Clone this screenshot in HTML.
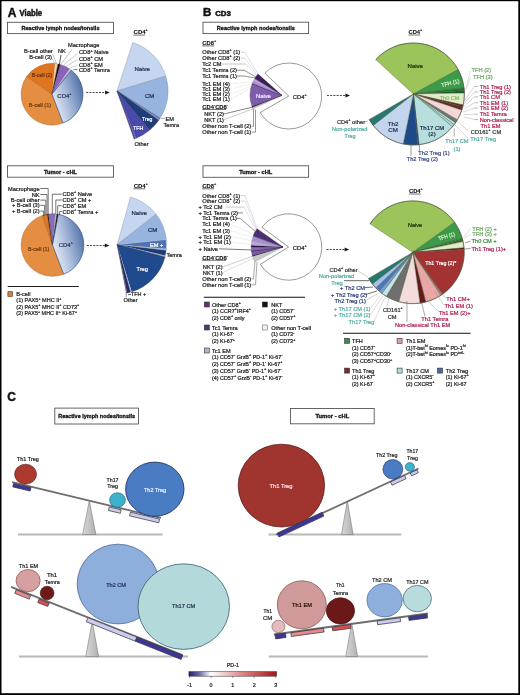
<!DOCTYPE html><html><head><meta charset="utf-8"><style>html,body{margin:0;padding:0;background:#fff;}svg{display:block;font-family:"Liberation Sans",sans-serif;will-change:transform;}</style></head><body>
<svg width="520" height="695" viewBox="0 0 520 695">
<rect x="0" y="0" width="520" height="695" fill="#fff" stroke="none" stroke-width="1"/>
<text x="7.80" y="16.87" font-size="12" fill="#111" font-weight="bold" stroke="#111" stroke-width="0.45">A</text>
<text x="19.50" y="16.45" font-size="8.2" fill="#111" font-weight="bold" textLength="22.6" lengthAdjust="spacingAndGlyphs" stroke="#111" stroke-width="0.45">Viable</text>
<rect x="7.5" y="22.3" width="106.0" height="11.3" fill="#fff" stroke="#555" stroke-width="0.9"/>
<text x="60.50" y="29.97" font-size="5.6" fill="#111" text-anchor="middle" font-weight="bold" textLength="78" lengthAdjust="spacingAndGlyphs" stroke="#111" stroke-width="0.28">Reactive lymph nodes/tonsils</text>
<defs><linearGradient id="cd4g" x1="0" y1="0.75" x2="1" y2="0.25"><stop offset="0" stop-color="#f2f5fa"/><stop offset="0.5" stop-color="#a2b6d8"/><stop offset="1" stop-color="#4a6aa2"/></linearGradient><linearGradient id="cd4g2" x1="0" y1="0.75" x2="1" y2="0.25"><stop offset="0" stop-color="#f2f5fa"/><stop offset="0.5" stop-color="#a2b6d8"/><stop offset="1" stop-color="#4a6aa2"/></linearGradient></defs>
<path d="M52.00,94.20 L63.07,123.05 A30.9,30.9 0 0 1 26.69,76.48 Z" fill="#e58e42" stroke="#9a5a20" stroke-width="0.4" />
<path d="M52.00,94.20 L26.69,76.48 A30.9,30.9 0 0 1 54.80,63.43 Z" fill="#df761f" stroke="#9a5a20" stroke-width="0.4" />
<path d="M52.00,94.20 L54.80,63.43 A30.9,30.9 0 0 1 58.05,63.90 Z" fill="#f6cfac" stroke="#9a5a20" stroke-width="0.3" />
<path d="M52.00,94.20 L58.05,63.90 A30.9,30.9 0 0 1 60.31,64.44 Z" fill="#111" stroke="#111" stroke-width="0.3" />
<path d="M52.00,94.20 L60.31,64.44 A30.9,30.9 0 0 1 69.46,68.70 Z" fill="#8a62bc" stroke="#444" stroke-width="0.3" />
<path d="M52.00,94.20 L69.46,68.70 A30.9,30.9 0 0 1 71.45,70.19 Z" fill="#c8b6e4" stroke="#555" stroke-width="0.2" />
<path d="M52.00,94.20 L71.45,70.19 A30.9,30.9 0 0 1 63.07,123.05 Z" fill="url(#cd4g)" stroke="#2d4a7a" stroke-width="0.65" />
<text x="57.30" y="97.96" font-size="6" fill="#2a3a5a" stroke="#2a3a5a" stroke-width="0.22">CD4<tspan font-size="3.8" dy="-2.9">+</tspan><tspan dy="2.9"></tspan></text>
<text x="28.80" y="106.55" font-size="5.7" fill="#6a3a10" textLength="22.4" lengthAdjust="spacingAndGlyphs" stroke="#6a3a10" stroke-width="0.22">B-cell (1)</text>
<text x="31.80" y="76.65" font-size="5.7" fill="#6a3010" textLength="20.4" lengthAdjust="spacingAndGlyphs" stroke="#6a3010" stroke-width="0.22">B-cell (2)</text>
<text x="67.90" y="47.35" font-size="5.7" fill="#222" stroke="#222" stroke-width="0.22">Macrophage</text>
<text x="24.00" y="53.35" font-size="5.7" fill="#222" stroke="#222" stroke-width="0.22">B-cell other</text>
<text x="58.00" y="53.35" font-size="5.7" fill="#222" stroke="#222" stroke-width="0.22">NK</text>
<text x="29.20" y="58.75" font-size="5.7" fill="#222" stroke="#222" stroke-width="0.22">B-cell (3)</text>
<text x="79.00" y="54.45" font-size="5.7" fill="#222" stroke="#222" stroke-width="0.22">CD8<tspan font-size="3.8" dy="-2.9">+</tspan><tspan dy="2.9"> Naive</tspan></text>
<text x="79.00" y="60.65" font-size="5.7" fill="#222" stroke="#222" stroke-width="0.22">CD8<tspan font-size="3.8" dy="-2.9">+</tspan><tspan dy="2.9"> CM</tspan></text>
<text x="79.00" y="66.55" font-size="5.7" fill="#222" stroke="#222" stroke-width="0.22">CD8<tspan font-size="3.8" dy="-2.9">+</tspan><tspan dy="2.9"> EM</tspan></text>
<text x="79.00" y="72.35" font-size="5.7" fill="#222" stroke="#222" stroke-width="0.22">CD8<tspan font-size="3.8" dy="-2.9">+</tspan><tspan dy="2.9"> Temra</tspan></text>
<line x1="72.00" y1="49.50" x2="61.30" y2="63.70" stroke="#777" stroke-width="0.45" />
<line x1="61.00" y1="55.00" x2="59.40" y2="64.50" stroke="#111" stroke-width="0.7" />
<line x1="52.50" y1="54.00" x2="56.50" y2="63.50" stroke="#777" stroke-width="0.45" />
<line x1="51.50" y1="58.00" x2="55.00" y2="63.50" stroke="#777" stroke-width="0.45" />
<line x1="77.50" y1="53.60" x2="63.70" y2="64.80" stroke="#888" stroke-width="0.45" />
<line x1="77.50" y1="59.60" x2="66.50" y2="66.00" stroke="#888" stroke-width="0.45" />
<line x1="77.50" y1="65.40" x2="70.60" y2="67.70" stroke="#888" stroke-width="0.45" />
<line x1="73.50" y1="69.60" x2="77.50" y2="69.60" stroke="#222" stroke-width="0.6" />
<line x1="86.20" y1="92.50" x2="105.70" y2="92.50" stroke="#333" stroke-width="0.9" stroke-dasharray="2,1.2"/>
<polygon points="109.70,92.50 105.10,90.50 105.10,94.50" fill="#1a1a1a" stroke="none" stroke-width="0.5"/>
<text x="133.60" y="34.36" font-size="6" fill="#111" font-weight="bold" stroke="#111" stroke-width="0.12">CD4<tspan font-size="3.8" dy="-2.9">+</tspan><tspan dy="2.9"></tspan></text>
<line x1="133.40" y1="35.10" x2="145.20" y2="35.10" stroke="#111" stroke-width="0.6" />
<path d="M117.00,91.00 L132.76,42.50 A51,51 0 0 1 165.77,76.09 Z" fill="#c6d6ef" stroke="#7a8fb5" stroke-width="0.4" />
<path d="M117.00,91.00 L165.77,76.09 A51,51 0 0 1 160.25,118.03 Z" fill="#97b4df" stroke="#7a8fb5" stroke-width="0.4" />
<path d="M117.00,91.00 L160.25,118.03 A51,51 0 0 1 159.53,119.15 Z" fill="#5c7fbf" stroke="#445" stroke-width="0.2" />
<path d="M117.00,91.00 L159.53,119.15 A51,51 0 0 1 158.78,120.25 Z" fill="#8aa0d0" stroke="#445" stroke-width="0.2" />
<path d="M117.00,91.00 L158.78,120.25 A51,51 0 0 1 149.78,130.07 Z" fill="#1f3d7a" stroke="#223" stroke-width="0.3" />
<path d="M117.00,91.00 L149.78,130.07 A51,51 0 0 1 136.10,138.29 Z" fill="#4a4aae" stroke="#223" stroke-width="0.3" />
<path d="M117.00,91.00 L136.10,138.29 A51,51 0 0 1 135.53,138.52 Z" fill="#8a8ad0" stroke="#8a8ad0" stroke-width="0.1" />
<path d="M117.00,91.00 L135.53,138.52 A51,51 0 0 1 134.11,139.04 Z" fill="#4a4aae" stroke="#223" stroke-width="0.3" />
<text x="134.50" y="70.66" font-size="6" fill="#1a2a4a" stroke="#1a2a4a" stroke-width="0.22">Naive</text>
<text x="145.00" y="97.66" font-size="6" fill="#1a2a4a" stroke="#1a2a4a" stroke-width="0.22">CM</text>
<text x="142.10" y="120.59" font-size="5.8" fill="#fff" textLength="10.4" lengthAdjust="spacingAndGlyphs" stroke="#fff" stroke-width="0.22">Treg</text>
<text x="132.90" y="130.39" font-size="5.8" fill="#fff" textLength="10.4" lengthAdjust="spacingAndGlyphs" stroke="#fff" stroke-width="0.22">TFH</text>
<text x="165.50" y="121.02" font-size="5.6" fill="#222" stroke="#222" stroke-width="0.22">EM</text>
<text x="163.50" y="126.52" font-size="5.6" fill="#222" stroke="#222" stroke-width="0.22">Temra</text>
<line x1="161.00" y1="118.50" x2="165.00" y2="118.50" stroke="#444" stroke-width="0.4" />
<text x="134.50" y="145.82" font-size="5.6" fill="#222" stroke="#222" stroke-width="0.22">Other</text>
<rect x="7.5" y="165.8" width="106.0" height="11.399999999999977" fill="#fff" stroke="#555" stroke-width="0.9"/>
<text x="60.50" y="173.52" font-size="5.6" fill="#111" text-anchor="middle" font-weight="bold" textLength="33" lengthAdjust="spacingAndGlyphs" stroke="#111" stroke-width="0.28">Tumor - cHL</text>
<path d="M52.50,245.00 L63.72,274.22 A31.3,31.3 0 1 1 42.31,215.41 Z" fill="#e58e42" stroke="#9a5a20" stroke-width="0.4" />
<path d="M52.50,245.00 L42.31,215.41 A31.3,31.3 0 0 1 47.44,214.11 Z" fill="#dc7626" stroke="#9a5a20" stroke-width="0.4" />
<path d="M52.50,245.00 L47.44,214.11 A31.3,31.3 0 0 1 48.41,213.97 Z" fill="#111" stroke="#111" stroke-width="0.3" />
<path d="M52.50,245.00 L48.41,213.97 A31.3,31.3 0 0 1 55.17,213.81 Z" fill="#8a6cbc" stroke="#444" stroke-width="0.3" />
<path d="M52.50,245.00 L55.17,213.81 A31.3,31.3 0 0 1 56.96,214.02 Z" fill="#c8b8e6" stroke="#555" stroke-width="0.2" />
<path d="M52.50,245.00 L56.96,214.02 A31.3,31.3 0 0 1 58.42,214.26 Z" fill="#151520" stroke="#111" stroke-width="0.3" />
<path d="M52.50,245.00 L58.42,214.26 A31.3,31.3 0 0 1 63.72,274.22 Z" fill="url(#cd4g2)" stroke="#2d4a7a" stroke-width="0.65" />
<text x="58.70" y="246.76" font-size="6" fill="#2a3a5a" stroke="#2a3a5a" stroke-width="0.22">CD4<tspan font-size="3.8" dy="-2.9">+</tspan><tspan dy="2.9"></tspan></text>
<text x="27.90" y="251.45" font-size="5.7" fill="#6a3a10" textLength="21.5" lengthAdjust="spacingAndGlyphs" stroke="#6a3a10" stroke-width="0.22">B-cell (1)</text>
<text x="39.60" y="190.55" font-size="5.7" fill="#222" text-anchor="end" stroke="#222" stroke-width="0.22">Macrophage</text>
<text x="39.60" y="196.55" font-size="5.7" fill="#222" text-anchor="end" stroke="#222" stroke-width="0.22">NK</text>
<text x="39.60" y="202.15" font-size="5.7" fill="#222" text-anchor="end" stroke="#222" stroke-width="0.22">B-cell other</text>
<text x="39.60" y="207.35" font-size="5.7" fill="#222" text-anchor="end" stroke="#222" stroke-width="0.22">+ B-cell (3)</text>
<text x="39.60" y="213.05" font-size="5.7" fill="#222" text-anchor="end" stroke="#222" stroke-width="0.22">+ B-cell (2)</text>
<text x="62.50" y="196.25" font-size="5.7" fill="#222" stroke="#222" stroke-width="0.22">CD8<tspan font-size="3.8" dy="-2.9">+</tspan><tspan dy="2.9"> Naive</tspan></text>
<text x="62.50" y="202.05" font-size="5.7" fill="#222" stroke="#222" stroke-width="0.22">CD8<tspan font-size="3.8" dy="-2.9">+</tspan><tspan dy="2.9"> CM +</tspan></text>
<text x="62.50" y="207.85" font-size="5.7" fill="#222" stroke="#222" stroke-width="0.22">CD8<tspan font-size="3.8" dy="-2.9">+</tspan><tspan dy="2.9"> EM</tspan></text>
<text x="62.50" y="213.55" font-size="5.7" fill="#222" stroke="#222" stroke-width="0.22">CD8<tspan font-size="3.8" dy="-2.9">+</tspan><tspan dy="2.9"> Temra +</tspan></text>
<line x1="40.30" y1="188.50" x2="48.20" y2="188.50" stroke="#222" stroke-width="0.65" />
<line x1="48.20" y1="188.50" x2="48.20" y2="215.50" stroke="#333" stroke-width="0.65" />
<line x1="40.30" y1="194.50" x2="47.00" y2="194.50" stroke="#222" stroke-width="0.65" />
<line x1="47.00" y1="194.50" x2="47.00" y2="215.00" stroke="#333" stroke-width="0.65" />
<line x1="40.30" y1="200.10" x2="45.80" y2="200.10" stroke="#222" stroke-width="0.65" />
<line x1="45.80" y1="200.10" x2="45.80" y2="215.00" stroke="#333" stroke-width="0.65" />
<line x1="40.30" y1="205.30" x2="44.60" y2="205.30" stroke="#222" stroke-width="0.65" />
<line x1="44.60" y1="205.30" x2="44.60" y2="215.50" stroke="#333" stroke-width="0.65" />
<line x1="40.30" y1="211.00" x2="43.40" y2="211.00" stroke="#222" stroke-width="0.65" />
<line x1="43.40" y1="211.00" x2="43.40" y2="216.00" stroke="#333" stroke-width="0.65" />
<line x1="61.80" y1="194.20" x2="52.30" y2="194.20" stroke="#222" stroke-width="0.65" />
<line x1="52.30" y1="194.20" x2="52.30" y2="214.00" stroke="#333" stroke-width="0.65" />
<line x1="61.80" y1="200.00" x2="55.80" y2="200.00" stroke="#222" stroke-width="0.65" />
<line x1="55.80" y1="200.00" x2="55.80" y2="214.20" stroke="#333" stroke-width="0.65" />
<line x1="61.80" y1="205.80" x2="57.70" y2="205.80" stroke="#222" stroke-width="0.65" />
<line x1="57.70" y1="205.80" x2="57.70" y2="214.50" stroke="#333" stroke-width="0.65" />
<line x1="61.80" y1="211.50" x2="59.60" y2="211.50" stroke="#222" stroke-width="0.65" />
<line x1="59.60" y1="211.50" x2="59.60" y2="215.00" stroke="#333" stroke-width="0.65" />
<line x1="86.80" y1="245.50" x2="105.40" y2="245.50" stroke="#333" stroke-width="0.9" stroke-dasharray="2,1.2"/>
<polygon points="109.40,245.50 104.80,243.50 104.80,247.50" fill="#1a1a1a" stroke="none" stroke-width="0.5"/>
<text x="133.70" y="188.36" font-size="6" fill="#111" font-weight="bold" stroke="#111" stroke-width="0.12">CD4<tspan font-size="3.8" dy="-2.9">+</tspan><tspan dy="2.9"></tspan></text>
<line x1="133.50" y1="188.80" x2="145.30" y2="188.80" stroke="#111" stroke-width="0.6" />
<path d="M117.20,244.60 L130.48,197.02 A49.4,49.4 0 0 1 156.13,214.19 Z" fill="#c6d6ef" stroke="#7a8fb5" stroke-width="0.4" />
<path d="M117.20,244.60 L156.13,214.19 A49.4,49.4 0 0 1 166.33,239.44 Z" fill="#97b4df" stroke="#7a8fb5" stroke-width="0.4" />
<path d="M117.20,244.60 L166.33,239.44 A49.4,49.4 0 0 1 166.41,248.91 Z" fill="#4e72b2" stroke="#dde" stroke-width="0.4" />
<path d="M117.20,244.60 L166.41,248.91 A49.4,49.4 0 0 1 166.28,250.19 Z" fill="#b8c8e8" stroke="#445" stroke-width="0.2" />
<path d="M117.20,244.60 L166.28,250.19 A49.4,49.4 0 0 1 165.33,255.71 Z" fill="#1e3a72" stroke="#dde" stroke-width="0.3" />
<path d="M117.20,244.60 L165.33,255.71 A49.4,49.4 0 0 1 165.03,256.97 Z" fill="#b8c8e8" stroke="#445" stroke-width="0.2" />
<path d="M117.20,244.60 L165.03,256.97 A49.4,49.4 0 0 1 131.64,291.84 Z" fill="#1f4a8e" stroke="#223" stroke-width="0.3" />
<path d="M117.20,244.60 L131.64,291.84 A49.4,49.4 0 0 1 130.57,292.16 Z" fill="#b0c4f0" stroke="#b0c4f0" stroke-width="0.1" />
<path d="M117.20,244.60 L130.57,292.16 A49.4,49.4 0 0 1 127.13,292.99 Z" fill="#2c2c60" stroke="#2c2c60" stroke-width="0.2" />
<path d="M117.20,244.60 L127.13,292.99 A49.4,49.4 0 0 1 126.29,293.16 Z" fill="#8a8ab0" stroke="#334" stroke-width="0.3" />
<text x="131.50" y="214.66" font-size="6" fill="#1a2a4a" stroke="#1a2a4a" stroke-width="0.22">Naive</text>
<text x="148.00" y="231.66" font-size="6" fill="#1a2a4a" stroke="#1a2a4a" stroke-width="0.22">CM</text>
<text x="150.00" y="246.52" font-size="5.6" fill="#fff" stroke="#fff" stroke-width="0.22">EM +</text>
<text x="136.40" y="270.79" font-size="5.8" fill="#fff" textLength="11.5" lengthAdjust="spacingAndGlyphs" stroke="#fff" stroke-width="0.22">Treg</text>
<text x="166.40" y="256.52" font-size="5.6" fill="#222" stroke="#222" stroke-width="0.22">Temra</text>
<text x="127.90" y="296.42" font-size="5.6" fill="#222" textLength="18.3" lengthAdjust="spacingAndGlyphs" stroke="#222" stroke-width="0.22">&#8211;TFH +</text>
<text x="123.50" y="301.82" font-size="5.6" fill="#222" textLength="14" lengthAdjust="spacingAndGlyphs" stroke="#222" stroke-width="0.22">Other</text>
<line x1="126.20" y1="292.30" x2="126.20" y2="297.00" stroke="#333" stroke-width="0.5" />
<line x1="7.70" y1="286.50" x2="78.80" y2="286.50" stroke="#222" stroke-width="1" />
<rect x="7.9" y="291.7" width="4.6" height="4.6" fill="#cf8248" stroke="#4a2a10" stroke-width="0.6"/>
<text x="16.30" y="296.05" font-size="5.7" fill="#222" stroke="#222" stroke-width="0.22">B-cell</text>
<text x="16.30" y="302.45" font-size="5.7" fill="#222" textLength="45.2" lengthAdjust="spacingAndGlyphs" stroke="#222" stroke-width="0.22">(1) PAX5<tspan font-size="3.8" dy="-2.9">+</tspan><tspan dy="2.9"> MHC II<tspan font-size="3.8" dy="-2.9">+</tspan><tspan dy="2.9"></tspan></tspan></text>
<text x="16.30" y="308.85" font-size="5.7" fill="#222" textLength="62.9" lengthAdjust="spacingAndGlyphs" stroke="#222" stroke-width="0.22">(2) PAX5<tspan font-size="3.8" dy="-2.9">+</tspan><tspan dy="2.9"> MHC II<tspan font-size="3.8" dy="-2.9">+</tspan><tspan dy="2.9"> CD73<tspan font-size="3.8" dy="-2.9">+</tspan><tspan dy="2.9"></tspan></tspan></tspan></text>
<text x="16.30" y="315.45" font-size="5.7" fill="#222" textLength="60.7" lengthAdjust="spacingAndGlyphs" stroke="#222" stroke-width="0.22">(3) PAX5<tspan font-size="3.8" dy="-2.9">+</tspan><tspan dy="2.9"> MHC II<tspan font-size="3.8" dy="-2.9">+</tspan><tspan dy="2.9"> Ki-67<tspan font-size="3.8" dy="-2.9">+</tspan><tspan dy="2.9"></tspan></tspan></tspan></text>
<text x="202.90" y="15.79" font-size="11.5" fill="#111" font-weight="bold" stroke="#111" stroke-width="0.45">B</text>
<text x="215.20" y="16.15" font-size="6.8" fill="#111" font-weight="bold" textLength="15.6" lengthAdjust="spacingAndGlyphs" stroke="#111" stroke-width="0.45">CD3</text>
<rect x="203" y="22.2" width="105.60000000000002" height="11.400000000000002" fill="#fff" stroke="#555" stroke-width="0.9"/>
<text x="255.80" y="29.92" font-size="5.6" fill="#111" text-anchor="middle" font-weight="bold" textLength="78" lengthAdjust="spacingAndGlyphs" stroke="#111" stroke-width="0.28">Reactive lymph nodes/tonsils</text>
<text x="202.30" y="45.09" font-size="5.8" fill="#111" font-weight="bold" stroke="#111" stroke-width="0.12">CD8<tspan font-size="3.8" dy="-2.9">+</tspan><tspan dy="2.9"></tspan></text>
<line x1="202.10" y1="45.90" x2="214.10" y2="45.90" stroke="#111" stroke-width="0.6" />
<text x="202.30" y="54.35" font-size="5.7" fill="#222" stroke="#222" stroke-width="0.22">Other CD8<tspan font-size="3.8" dy="-2.9">+</tspan><tspan dy="2.9"> (1)</tspan></text>
<text x="202.30" y="60.15" font-size="5.7" fill="#222" stroke="#222" stroke-width="0.22">Other CD8<tspan font-size="3.8" dy="-2.9">+</tspan><tspan dy="2.9"> (2)</tspan></text>
<text x="202.30" y="66.05" font-size="5.7" fill="#222" stroke="#222" stroke-width="0.22">Tc2 CM</text>
<text x="202.30" y="72.25" font-size="5.7" fill="#222" stroke="#222" stroke-width="0.22">Tc1 Temra (2)</text>
<text x="202.30" y="78.05" font-size="5.7" fill="#222" stroke="#222" stroke-width="0.22">Tc1 Temra (1)</text>
<text x="202.30" y="85.75" font-size="5.7" fill="#222" stroke="#222" stroke-width="0.22">Tc1 EM (4)</text>
<text x="202.30" y="90.85" font-size="5.7" fill="#222" stroke="#222" stroke-width="0.22">Tc1 EM (3)</text>
<text x="202.30" y="96.25" font-size="5.7" fill="#222" stroke="#222" stroke-width="0.22">Tc1 EM (2)</text>
<text x="202.30" y="101.05" font-size="5.7" fill="#222" stroke="#222" stroke-width="0.22">Tc1 EM (1)</text>
<text x="202.30" y="108.79" font-size="5.8" fill="#111" font-weight="bold" stroke="#111" stroke-width="0.12">CD4<tspan font-size="3.8" dy="-2.9">-</tspan><tspan dy="2.9">CD8<tspan font-size="3.8" dy="-2.9">-</tspan><tspan dy="2.9"></tspan></tspan></text>
<line x1="202.10" y1="109.50" x2="226.00" y2="109.50" stroke="#111" stroke-width="0.6" />
<text x="204.20" y="116.25" font-size="5.7" fill="#222" stroke="#222" stroke-width="0.22">NKT (2)</text>
<text x="204.20" y="122.05" font-size="5.7" fill="#222" stroke="#222" stroke-width="0.22">NKT (1)</text>
<text x="202.30" y="128.35" font-size="5.7" fill="#222" stroke="#222" stroke-width="0.22">Other non T-cell (2)</text>
<text x="202.30" y="134.15" font-size="5.7" fill="#222" stroke="#222" stroke-width="0.22">Other non T-cell (1)</text>
<line x1="241.00" y1="52.30" x2="245.00" y2="52.30" stroke="#888" stroke-width="0.4" />
<line x1="245.00" y1="52.30" x2="258.00" y2="74.00" stroke="#c8b8d8" stroke-width="0.5" />
<line x1="241.00" y1="58.10" x2="245.00" y2="58.10" stroke="#888" stroke-width="0.4" />
<line x1="245.00" y1="58.10" x2="257.00" y2="75.00" stroke="#d0c0e0" stroke-width="0.5" />
<line x1="222.00" y1="64.00" x2="246.00" y2="64.00" stroke="#888" stroke-width="0.5" />
<line x1="246.00" y1="64.00" x2="257.00" y2="76.00" stroke="#bbb" stroke-width="0.4" />
<line x1="237.00" y1="70.20" x2="244.00" y2="70.20" stroke="#333" stroke-width="0.6" />
<line x1="244.00" y1="70.20" x2="256.00" y2="77.00" stroke="#333" stroke-width="0.5" />
<line x1="237.00" y1="76.00" x2="244.00" y2="76.00" stroke="#333" stroke-width="0.6" />
<line x1="244.00" y1="76.00" x2="255.50" y2="78.00" stroke="#333" stroke-width="0.5" />
<line x1="231.00" y1="83.70" x2="254.00" y2="82.00" stroke="#bbb" stroke-width="0.4" stroke-dasharray="1,0.7"/>
<line x1="231.00" y1="88.80" x2="254.00" y2="83.53" stroke="#bbb" stroke-width="0.4" stroke-dasharray="1,0.7"/>
<line x1="231.00" y1="94.20" x2="254.00" y2="85.15" stroke="#bbb" stroke-width="0.4" stroke-dasharray="1,0.7"/>
<line x1="231.00" y1="99.00" x2="254.00" y2="86.59" stroke="#bbb" stroke-width="0.4" stroke-dasharray="1,0.7"/>
<line x1="223.00" y1="114.20" x2="253.00" y2="107.00" stroke="#333" stroke-width="0.6" />
<line x1="223.00" y1="120.00" x2="254.00" y2="108.50" stroke="#999" stroke-width="0.5" />
<line x1="251.50" y1="126.30" x2="253.50" y2="126.30" stroke="#333" stroke-width="0.5" />
<line x1="253.50" y1="126.30" x2="253.50" y2="109.00" stroke="#333" stroke-width="0.5" />
<line x1="251.50" y1="132.10" x2="255.50" y2="132.10" stroke="#333" stroke-width="0.5" />
<line x1="255.50" y1="132.10" x2="255.50" y2="109.50" stroke="#333" stroke-width="0.5" />
<path d="M288.70,96.00 L264.88,73.16 A33,33 0 1 1 260.18,112.60 Z" fill="#fff" stroke="#555" stroke-width="0.6" />
<path d="M282.00,95.30 L253.00,108.82 A32,32 0 0 1 252.33,107.29 Z" fill="#ccc" stroke="#666" stroke-width="0.3" />
<path d="M282.00,95.30 L252.33,107.29 A32,32 0 0 1 251.93,106.24 Z" fill="#2a1a3a" stroke="#2a1a3a" stroke-width="0.3" />
<path d="M282.00,95.30 L251.93,106.24 A32,32 0 0 1 252.13,83.83 Z" fill="#7d5cab" stroke="#3a2a5a" stroke-width="0.3" />
<path d="M282.00,95.30 L252.13,83.83 A32,32 0 0 1 252.33,83.31 Z" fill="#2a1a3a" stroke="#2a1a3a" stroke-width="0.3" />
<path d="M282.00,95.30 L252.33,83.31 A32,32 0 0 1 253.24,81.27 Z" fill="#a88cd0" stroke="#6a5a8a" stroke-width="0.2" />
<path d="M282.00,95.30 L253.24,81.27 A32,32 0 0 1 254.72,78.58 Z" fill="#b9a4dc" stroke="#6a5a8a" stroke-width="0.2" />
<path d="M282.00,95.30 L254.72,78.58 A32,32 0 0 1 258.03,74.10 Z" fill="#3d1f5a" stroke="#2a1a3a" stroke-width="0.3" />
<text x="255.90" y="97.79" font-size="5.8" fill="#f0e8ff" textLength="15" lengthAdjust="spacingAndGlyphs" stroke="#f0e8ff" stroke-width="0.22">Naive</text>
<text x="292.80" y="98.59" font-size="5.8" fill="#222" stroke="#222" stroke-width="0.22">CD4<tspan font-size="3.8" dy="-2.9">+</tspan><tspan dy="2.9"></tspan></text>
<line x1="327.00" y1="95.50" x2="346.00" y2="95.50" stroke="#333" stroke-width="0.9" stroke-dasharray="2,1.2"/>
<polygon points="350.00,95.50 345.40,93.50 345.40,97.50" fill="#1a1a1a" stroke="none" stroke-width="0.5"/>
<text x="408.50" y="34.29" font-size="5.8" fill="#111" font-weight="bold" stroke="#111" stroke-width="0.12">CD4<tspan font-size="3.8" dy="-2.9">+</tspan><tspan dy="2.9"></tspan></text>
<line x1="408.50" y1="35.00" x2="420.30" y2="35.00" stroke="#111" stroke-width="0.6" />
<path d="M413.40,94.00 L375.74,59.61 A51,51 0 0 1 458.18,69.59 Z" fill="#9bc55a" stroke="#4a5a3a" stroke-width="0.4" />
<path d="M413.40,94.00 L458.18,69.59 A51,51 0 0 1 464.02,87.78 Z" fill="#3b9b49" stroke="#4a5a3a" stroke-width="0.4" />
<path d="M413.40,94.00 L464.02,87.78 A51,51 0 0 1 464.28,90.44 Z" fill="#1f7a30" stroke="#4a5a3a" stroke-width="0.4" />
<path d="M413.40,94.00 L464.28,90.44 A51,51 0 0 1 464.39,93.11 Z" fill="#16602a" stroke="#4a5a3a" stroke-width="0.4" />
<path d="M413.40,94.00 L464.39,93.11 A51,51 0 0 1 463.19,105.04 Z" fill="#e2edc8" stroke="#4a5a3a" stroke-width="0.4" />
<path d="M413.40,94.00 L463.19,105.04 A51,51 0 0 1 462.78,106.77 Z" fill="#5a1a1a" stroke="#4a5a3a" stroke-width="0.4" />
<path d="M413.40,94.00 L462.78,106.77 A51,51 0 0 1 461.76,110.18 Z" fill="#6e2828" stroke="#4a5a3a" stroke-width="0.4" />
<path d="M413.40,94.00 L461.76,110.18 A51,51 0 0 1 457.34,119.88 Z" fill="#f3d6d6" stroke="#4a5a3a" stroke-width="0.4" />
<path d="M413.40,94.00 L457.34,119.88 A51,51 0 0 1 455.43,122.89 Z" fill="#6a7878" stroke="#4a5a3a" stroke-width="0.4" />
<path d="M413.40,94.00 L455.43,122.89 A51,51 0 0 1 454.13,124.69 Z" fill="#c6e6e6" stroke="#4a5a3a" stroke-width="0.4" />
<path d="M413.40,94.00 L454.13,124.69 A51,51 0 0 1 452.47,126.78 Z" fill="#a8d8d8" stroke="#4a5a3a" stroke-width="0.4" />
<path d="M413.40,94.00 L452.47,126.78 A51,51 0 0 1 419.08,144.68 Z" fill="#b8dede" stroke="#4a5a3a" stroke-width="0.4" />
<path d="M413.40,94.00 L419.08,144.68 A51,51 0 0 1 417.84,144.81 Z" fill="#1a2a60" stroke="#4a5a3a" stroke-width="0.4" />
<path d="M413.40,94.00 L417.84,144.81 A51,51 0 0 1 403.15,143.96 Z" fill="#1f4a8a" stroke="#4a5a3a" stroke-width="0.4" />
<path d="M413.40,94.00 L403.15,143.96 A51,51 0 0 1 373.21,125.40 Z" fill="#c2d5ed" stroke="#4a5a3a" stroke-width="0.4" />
<path d="M413.40,94.00 L373.21,125.40 A51,51 0 0 1 369.23,119.50 Z" fill="#287872" stroke="#4a5a3a" stroke-width="0.4" />
<path d="M375.74,59.61 A51,51 0 1 1 369.23,119.50" fill="none" stroke="#4a5040" stroke-width="0.6"/>
<text x="407.50" y="67.79" font-size="5.8" fill="#1a2a10" textLength="15.5" lengthAdjust="spacingAndGlyphs" stroke="#1a2a10" stroke-width="0.22">Naive</text>
<text x="441.00" y="85.02" font-size="5.6" fill="#d8f0d0" textLength="18.4" lengthAdjust="spacingAndGlyphs" style="transform-box:fill-box;transform-origin:center;transform:rotate(-14deg)" stroke="#d8f0d0" stroke-width="0.22">TFH (1)</text>
<text x="439.70" y="99.62" font-size="5.6" fill="#8ab868" textLength="19.7" lengthAdjust="spacingAndGlyphs" stroke="#8ab868" stroke-width="0.22">Th0 CM</text>
<text x="393.00" y="125.63" font-size="6.2" fill="#1a2a4a" text-anchor="middle" stroke="#1a2a4a" stroke-width="0.22">Th2</text>
<text x="393.00" y="132.33" font-size="6.2" fill="#1a2a4a" text-anchor="middle" stroke="#1a2a4a" stroke-width="0.22">CM</text>
<text x="432.00" y="129.86" font-size="6" fill="#1a2a4a" text-anchor="middle" stroke="#1a2a4a" stroke-width="0.22">Th17 CM</text>
<text x="432.00" y="135.96" font-size="6" fill="#1a2a4a" text-anchor="middle" stroke="#1a2a4a" stroke-width="0.22">(2)</text>
<text x="471.50" y="72.45" font-size="5.7" fill="#6aaa60" stroke="#6aaa60" stroke-width="0.22">TFH (2)</text>
<text x="473.00" y="79.35" font-size="5.7" fill="#6aaa60" stroke="#6aaa60" stroke-width="0.22">TFH (3)</text>
<text x="479.70" y="88.55" font-size="5.7" fill="#b0204e" stroke="#b0204e" stroke-width="0.22">Th1 Treg (1)</text>
<text x="479.70" y="93.95" font-size="5.7" fill="#b0204e" stroke="#b0204e" stroke-width="0.22">Th1 Treg (2)</text>
<text x="479.70" y="98.85" font-size="5.7" fill="#b0204e" stroke="#b0204e" stroke-width="0.22">Th1 CM</text>
<text x="479.70" y="104.75" font-size="5.7" fill="#b0204e" stroke="#b0204e" stroke-width="0.22">Th1 EM (1)</text>
<text x="479.70" y="110.05" font-size="5.7" fill="#b0204e" stroke="#b0204e" stroke-width="0.22">Th1 EM (2)</text>
<text x="479.70" y="116.25" font-size="5.7" fill="#b0204e" stroke="#b0204e" stroke-width="0.22">Th1 Temra</text>
<text x="479.70" y="121.65" font-size="5.7" fill="#b0204e" stroke="#b0204e" stroke-width="0.22">Non-classical</text>
<text x="480.50" y="128.15" font-size="5.7" fill="#b0204e" stroke="#b0204e" stroke-width="0.22">Th1 EM</text>
<text x="470.80" y="133.65" font-size="5.7" fill="#333" stroke="#333" stroke-width="0.22">CD161<tspan font-size="3.8" dy="-2.9">+</tspan><tspan dy="2.9"> CM</tspan></text>
<text x="470.20" y="141.25" font-size="5.7" fill="#56aeaa" stroke="#56aeaa" stroke-width="0.22">Th17 Treg</text>
<text x="445.20" y="143.25" font-size="5.7" fill="#56aeaa" stroke="#56aeaa" stroke-width="0.22">Th17 CM</text>
<text x="453.50" y="150.55" font-size="5.7" fill="#56aeaa" stroke="#56aeaa" stroke-width="0.22">(1)</text>
<text x="418.30" y="155.15" font-size="5.7" fill="#3a4a8a" stroke="#3a4a8a" stroke-width="0.22">Th2 Treg (1)</text>
<text x="406.70" y="160.55" font-size="5.7" fill="#3a4a8a" stroke="#3a4a8a" stroke-width="0.22">Th2 Treg (2)</text>
<line x1="411.00" y1="145.00" x2="411.00" y2="156.00" stroke="#555" stroke-width="0.6" />
<line x1="419.40" y1="145.00" x2="419.40" y2="152.00" stroke="#555" stroke-width="0.6" />
<line x1="454.20" y1="128.50" x2="454.20" y2="136.50" stroke="#555" stroke-width="0.5" />
<text x="336.90" y="124.05" font-size="5.7" fill="#333" stroke="#333" stroke-width="0.22">CD4<tspan font-size="3.8" dy="-2.9">+</tspan><tspan dy="2.9"> other</tspan></text>
<text x="332.00" y="131.45" font-size="5.7" fill="#52aca2" stroke="#52aca2" stroke-width="0.22">Non-polarized</text>
<text x="344.60" y="138.15" font-size="5.7" fill="#52aca2" textLength="10.8" lengthAdjust="spacingAndGlyphs" stroke="#52aca2" stroke-width="0.22">Treg</text>
<line x1="365.00" y1="122.00" x2="368.00" y2="121.00" stroke="#555" stroke-width="0.4" />
<line x1="470.50" y1="70.40" x2="466.00" y2="89.00" stroke="#aaa" stroke-width="0.4" />
<line x1="470.50" y1="77.30" x2="466.00" y2="90.00" stroke="#aaa" stroke-width="0.4" />
<line x1="478.00" y1="86.50" x2="474.50" y2="86.50" stroke="#555" stroke-width="0.4" />
<line x1="474.50" y1="86.50" x2="463.50" y2="102.00" stroke="#888" stroke-width="0.35" />
<line x1="478.00" y1="91.90" x2="474.50" y2="91.90" stroke="#555" stroke-width="0.4" />
<line x1="474.50" y1="91.90" x2="463.50" y2="104.50" stroke="#888" stroke-width="0.35" />
<line x1="478.00" y1="96.80" x2="474.50" y2="96.80" stroke="#555" stroke-width="0.4" />
<line x1="474.50" y1="96.80" x2="463.50" y2="107.00" stroke="#888" stroke-width="0.35" />
<line x1="478.00" y1="102.70" x2="474.50" y2="102.70" stroke="#555" stroke-width="0.4" />
<line x1="474.50" y1="102.70" x2="463.50" y2="109.50" stroke="#888" stroke-width="0.35" />
<line x1="478.00" y1="108.00" x2="474.50" y2="108.00" stroke="#555" stroke-width="0.4" />
<line x1="474.50" y1="108.00" x2="463.50" y2="112.00" stroke="#888" stroke-width="0.35" />
<line x1="478.00" y1="114.20" x2="474.50" y2="114.20" stroke="#555" stroke-width="0.4" />
<line x1="474.50" y1="114.20" x2="463.50" y2="114.50" stroke="#888" stroke-width="0.35" />
<line x1="478.00" y1="119.60" x2="474.50" y2="119.60" stroke="#555" stroke-width="0.4" />
<line x1="474.50" y1="119.60" x2="463.50" y2="117.00" stroke="#888" stroke-width="0.35" />
<line x1="469.00" y1="131.60" x2="457.00" y2="121.00" stroke="#888" stroke-width="0.35" />
<line x1="469.00" y1="139.20" x2="455.00" y2="125.00" stroke="#888" stroke-width="0.35" />
<rect x="203" y="165.8" width="105.60000000000002" height="11.5" fill="#fff" stroke="#555" stroke-width="0.9"/>
<text x="255.80" y="173.57" font-size="5.6" fill="#111" text-anchor="middle" font-weight="bold" textLength="33" lengthAdjust="spacingAndGlyphs" stroke="#111" stroke-width="0.28">Tumor - cHL</text>
<text x="202.30" y="188.29" font-size="5.8" fill="#111" font-weight="bold" stroke="#111" stroke-width="0.12">CD8<tspan font-size="3.8" dy="-2.9">+</tspan><tspan dy="2.9"></tspan></text>
<line x1="202.10" y1="188.80" x2="214.10" y2="188.80" stroke="#111" stroke-width="0.6" />
<text x="202.30" y="197.65" font-size="5.7" fill="#222" stroke="#222" stroke-width="0.22">Other CD8<tspan font-size="3.8" dy="-2.9">+</tspan><tspan dy="2.9"> (1)</tspan></text>
<text x="202.30" y="203.05" font-size="5.7" fill="#222" stroke="#222" stroke-width="0.22">Other CD8<tspan font-size="3.8" dy="-2.9">+</tspan><tspan dy="2.9"> (2)</tspan></text>
<text x="198.50" y="209.15" font-size="5.7" fill="#222" stroke="#222" stroke-width="0.22">+ Tc2 CM</text>
<text x="198.50" y="214.95" font-size="5.7" fill="#222" stroke="#222" stroke-width="0.22">+ Tc1 Temra (2)</text>
<text x="202.30" y="220.35" font-size="5.7" fill="#222" stroke="#222" stroke-width="0.22">Tc1 Temra (1)</text>
<text x="202.30" y="226.45" font-size="5.7" fill="#222" stroke="#222" stroke-width="0.22">Tc1 EM (4)</text>
<text x="202.30" y="232.85" font-size="5.7" fill="#222" stroke="#222" stroke-width="0.22">Tc1 EM (3)</text>
<text x="198.50" y="238.55" font-size="5.7" fill="#222" stroke="#222" stroke-width="0.22">+ Tc1 EM (2)</text>
<text x="198.50" y="244.35" font-size="5.7" fill="#222" stroke="#222" stroke-width="0.22">+ Tc1 EM (1)</text>
<text x="198.50" y="250.85" font-size="5.7" fill="#222" stroke="#222" stroke-width="0.22">+ Naive</text>
<text x="202.30" y="259.59" font-size="5.8" fill="#111" font-weight="bold" stroke="#111" stroke-width="0.12">CD4<tspan font-size="3.8" dy="-2.9">-</tspan><tspan dy="2.9">CD8<tspan font-size="3.8" dy="-2.9">-</tspan><tspan dy="2.9"></tspan></tspan></text>
<line x1="202.10" y1="260.30" x2="226.00" y2="260.30" stroke="#111" stroke-width="0.6" />
<text x="202.80" y="269.25" font-size="5.7" fill="#222" stroke="#222" stroke-width="0.22">NKT (2)</text>
<text x="202.80" y="274.85" font-size="5.7" fill="#222" stroke="#222" stroke-width="0.22">NKT (1)</text>
<text x="202.30" y="281.05" font-size="5.7" fill="#222" stroke="#222" stroke-width="0.22">Other non T-cell (2)</text>
<text x="202.30" y="286.85" font-size="5.7" fill="#222" stroke="#222" stroke-width="0.22">Other non T-cell (1)</text>
<line x1="241.00" y1="195.60" x2="245.00" y2="195.60" stroke="#888" stroke-width="0.4" />
<line x1="245.00" y1="195.60" x2="257.00" y2="228.00" stroke="#c8b8d8" stroke-width="0.5" />
<line x1="241.00" y1="201.00" x2="245.00" y2="201.00" stroke="#888" stroke-width="0.4" />
<line x1="245.00" y1="201.00" x2="256.50" y2="229.00" stroke="#d0c0e0" stroke-width="0.5" />
<line x1="226.00" y1="207.10" x2="244.00" y2="207.10" stroke="#999" stroke-width="0.5" />
<line x1="244.00" y1="207.10" x2="256.00" y2="230.00" stroke="#bbb" stroke-width="0.4" />
<line x1="237.00" y1="212.90" x2="243.00" y2="212.90" stroke="#333" stroke-width="0.6" />
<line x1="237.00" y1="218.30" x2="240.00" y2="218.30" stroke="#333" stroke-width="0.6" />
<line x1="240.00" y1="218.30" x2="255.00" y2="231.00" stroke="#333" stroke-width="0.5" />
<line x1="231.00" y1="224.40" x2="253.00" y2="234.00" stroke="#bbb" stroke-width="0.4" stroke-dasharray="1,0.7"/>
<line x1="231.00" y1="230.80" x2="253.00" y2="237.50" stroke="#bbb" stroke-width="0.4" stroke-dasharray="1,0.7"/>
<line x1="231.00" y1="236.50" x2="253.00" y2="241.00" stroke="#bbb" stroke-width="0.4" stroke-dasharray="1,0.7"/>
<line x1="231.00" y1="242.30" x2="253.00" y2="244.50" stroke="#bbb" stroke-width="0.4" stroke-dasharray="1,0.7"/>
<line x1="219.00" y1="248.80" x2="253.00" y2="250.00" stroke="#222" stroke-width="0.6" />
<line x1="222.00" y1="267.20" x2="253.00" y2="256.00" stroke="#999" stroke-width="0.5" />
<line x1="222.00" y1="272.80" x2="254.00" y2="258.00" stroke="#bbb" stroke-width="0.5" />
<line x1="251.50" y1="279.00" x2="253.50" y2="279.00" stroke="#555" stroke-width="0.5" />
<line x1="253.50" y1="279.00" x2="255.00" y2="261.00" stroke="#555" stroke-width="0.5" />
<line x1="251.50" y1="284.80" x2="255.50" y2="284.80" stroke="#555" stroke-width="0.5" />
<line x1="255.50" y1="284.80" x2="257.00" y2="262.00" stroke="#555" stroke-width="0.5" />
<path d="M288.60,247.00 L261.91,227.25 A33.2,33.2 0 1 1 260.26,264.30 Z" fill="#fff" stroke="#555" stroke-width="0.6" />
<path d="M283.00,246.90 L254.92,261.83 A31.8,31.8 0 0 1 252.59,256.20 Z" fill="#c8c8c8" stroke="#777" stroke-width="0.3" />
<path d="M283.00,246.90 L252.59,256.20 A31.8,31.8 0 0 1 252.36,255.40 Z" fill="#221530" stroke="#221530" stroke-width="0.3" />
<path d="M283.00,246.90 L252.36,255.40 A31.8,31.8 0 0 1 251.51,251.33 Z" fill="#7a5aa8" stroke="#3a2a5a" stroke-width="0.3" />
<path d="M283.00,246.90 L251.51,251.33 A31.8,31.8 0 0 1 251.44,250.78 Z" fill="#2a1a40" stroke="#2a1a40" stroke-width="0.3" />
<path d="M283.00,246.90 L251.44,250.78 A31.8,31.8 0 0 1 251.20,246.90 Z" fill="#8a6ab8" stroke="#3a2a5a" stroke-width="0.3" />
<path d="M283.00,246.90 L251.20,246.90 A31.8,31.8 0 0 1 251.24,245.24 Z" fill="#2a1840" stroke="#2a1840" stroke-width="0.3" />
<path d="M283.00,246.90 L251.24,245.24 A31.8,31.8 0 0 1 251.78,240.83 Z" fill="#b8a8d8" stroke="#6a5a8a" stroke-width="0.2" />
<path d="M283.00,246.90 L251.78,240.83 A31.8,31.8 0 0 1 253.12,236.02 Z" fill="#a890d0" stroke="#6a5a8a" stroke-width="0.2" />
<path d="M283.00,246.90 L253.12,236.02 A31.8,31.8 0 0 1 256.95,228.66 Z" fill="#4a3070" stroke="#2a1a3a" stroke-width="0.3" />
<text x="292.80" y="249.59" font-size="5.8" fill="#222" stroke="#222" stroke-width="0.22">CD4<tspan font-size="3.8" dy="-2.9">+</tspan><tspan dy="2.9"></tspan></text>
<line x1="326.50" y1="249.50" x2="345.20" y2="249.50" stroke="#333" stroke-width="0.9" stroke-dasharray="2,1.2"/>
<polygon points="349.20,249.50 344.60,247.50 344.60,251.50" fill="#1a1a1a" stroke="none" stroke-width="0.5"/>
<text x="409.00" y="193.29" font-size="5.8" fill="#111" font-weight="bold" stroke="#111" stroke-width="0.12">CD4<tspan font-size="3.8" dy="-2.9">+</tspan><tspan dy="2.9"></tspan></text>
<line x1="409.00" y1="194.00" x2="420.80" y2="194.00" stroke="#111" stroke-width="0.6" />
<path d="M412.80,252.30 L369.99,223.86 A51.4,51.4 0 0 1 454.54,222.31 Z" fill="#9bc55a" stroke="#4a5a3a" stroke-width="0.4" />
<path d="M412.80,252.30 L454.54,222.31 A51.4,51.4 0 0 1 462.28,238.39 Z" fill="#3b9b49" stroke="#4a5a3a" stroke-width="0.4" />
<path d="M412.80,252.30 L462.28,238.39 A51.4,51.4 0 0 1 462.67,239.87 Z" fill="#2a7a38" stroke="#4a5a3a" stroke-width="0.4" />
<path d="M412.80,252.30 L462.67,239.87 A51.4,51.4 0 0 1 463.08,241.61 Z" fill="#1f6a2a" stroke="#4a5a3a" stroke-width="0.4" />
<path d="M412.80,252.30 L463.08,241.61 A51.4,51.4 0 0 1 464.00,247.82 Z" fill="#e2edc8" stroke="#4a5a3a" stroke-width="0.4" />
<path d="M412.80,252.30 L464.00,247.82 A51.4,51.4 0 0 1 464.13,249.61 Z" fill="#5a1a1a" stroke="#4a5a3a" stroke-width="0.4" />
<path d="M412.80,252.30 L464.13,249.61 A51.4,51.4 0 0 1 442.50,294.25 Z" fill="#a33232" stroke="#4a5a3a" stroke-width="0.4" />
<path d="M412.80,252.30 L442.50,294.25 A51.4,51.4 0 0 1 441.77,294.76 Z" fill="#c86060" stroke="#4a5a3a" stroke-width="0.4" />
<path d="M412.80,252.30 L441.77,294.76 A51.4,51.4 0 0 1 440.79,295.41 Z" fill="#d88888" stroke="#4a5a3a" stroke-width="0.4" />
<path d="M412.80,252.30 L440.79,295.41 A51.4,51.4 0 0 1 425.76,302.04 Z" fill="#e8a6a6" stroke="#4a5a3a" stroke-width="0.4" />
<path d="M412.80,252.30 L425.76,302.04 A51.4,51.4 0 0 1 419.95,303.20 Z" fill="#6a1818" stroke="#4a5a3a" stroke-width="0.4" />
<path d="M412.80,252.30 L419.95,303.20 A51.4,51.4 0 0 1 398.63,301.71 Z" fill="#f5dcdc" stroke="#4a5a3a" stroke-width="0.4" />
<path d="M412.80,252.30 L398.63,301.71 A51.4,51.4 0 0 1 386.33,296.36 Z" fill="#6e6e6e" stroke="#4a5a3a" stroke-width="0.4" />
<path d="M412.80,252.30 L386.33,296.36 A51.4,51.4 0 0 1 381.87,293.35 Z" fill="#c4e4ea" stroke="#4a5a3a" stroke-width="0.4" />
<path d="M412.80,252.30 L381.87,293.35 A51.4,51.4 0 0 1 379.08,291.09 Z" fill="#7aa0d0" stroke="#4a5a3a" stroke-width="0.4" />
<path d="M412.80,252.30 L379.08,291.09 A51.4,51.4 0 0 1 375.83,288.01 Z" fill="#4a78b8" stroke="#4a5a3a" stroke-width="0.4" />
<path d="M412.80,252.30 L375.83,288.01 A51.4,51.4 0 0 1 372.30,283.94 Z" fill="#a4c0e6" stroke="#4a5a3a" stroke-width="0.4" />
<path d="M412.80,252.30 L372.30,283.94 A51.4,51.4 0 0 1 368.51,278.39 Z" fill="#24786e" stroke="#4a5a3a" stroke-width="0.4" />
<path d="M369.99,223.86 A51.4,51.4 0 1 1 368.51,278.39" fill="none" stroke="#4a5040" stroke-width="0.6"/>
<text x="408.00" y="227.19" font-size="5.8" fill="#1a2a10" textLength="14" lengthAdjust="spacingAndGlyphs" stroke="#1a2a10" stroke-width="0.22">Naive</text>
<text x="438.00" y="238.22" font-size="5.6" fill="#d8f0d0" textLength="17" lengthAdjust="spacingAndGlyphs" style="transform-box:fill-box;transform-origin:center;transform:rotate(-16deg)" stroke="#d8f0d0" stroke-width="0.22">TFH (1)</text>
<text x="425.20" y="265.26" font-size="6" fill="#fff" textLength="31.2" lengthAdjust="spacingAndGlyphs" stroke="#fff" stroke-width="0.22">Th1 Treg (2)*</text>
<text x="472.30" y="230.55" font-size="5.7" fill="#6aaa60" stroke="#6aaa60" stroke-width="0.22">TFH (2) +</text>
<text x="472.30" y="236.35" font-size="5.7" fill="#6aaa60" stroke="#6aaa60" stroke-width="0.22">TFH (3) +</text>
<text x="471.50" y="243.25" font-size="5.7" fill="#3a8a3a" stroke="#3a8a3a" stroke-width="0.22">Th0 CM +</text>
<text x="471.50" y="250.55" font-size="5.7" fill="#b0204e" stroke="#b0204e" stroke-width="0.22">Th1 Treg (1)+</text>
<line x1="470.50" y1="228.50" x2="464.00" y2="237.00" stroke="#aaa" stroke-width="0.4" />
<line x1="470.50" y1="234.30" x2="464.00" y2="238.50" stroke="#aaa" stroke-width="0.4" />
<line x1="470.50" y1="241.20" x2="465.00" y2="243.00" stroke="#333" stroke-width="0.5" />
<line x1="470.50" y1="248.50" x2="464.50" y2="249.00" stroke="#333" stroke-width="0.5" />
<text x="446.30" y="301.25" font-size="5.7" fill="#b0204e" stroke="#b0204e" stroke-width="0.22">Th1 CM+</text>
<text x="444.40" y="308.05" font-size="5.7" fill="#b0204e" stroke="#b0204e" stroke-width="0.22">Th1 EM (1)</text>
<text x="438.70" y="314.75" font-size="5.7" fill="#b0204e" stroke="#b0204e" stroke-width="0.22">Th1 EM (2)+</text>
<text x="421.30" y="320.55" font-size="5.7" fill="#b0204e" stroke="#b0204e" stroke-width="0.22">Th1 Temra</text>
<text x="395.00" y="327.25" font-size="5.7" fill="#b0204e" stroke="#b0204e" stroke-width="0.22">Non-classical Th1 EM</text>
<line x1="445.50" y1="298.00" x2="437.00" y2="288.00" stroke="#888" stroke-width="0.4" />
<line x1="443.50" y1="305.00" x2="435.00" y2="291.00" stroke="#888" stroke-width="0.4" />
<line x1="438.00" y1="311.00" x2="427.00" y2="300.00" stroke="#888" stroke-width="0.4" />
<line x1="425.00" y1="316.50" x2="421.50" y2="302.00" stroke="#555" stroke-width="0.5" />
<line x1="407.00" y1="322.00" x2="407.00" y2="301.00" stroke="#777" stroke-width="0.6" />
<text x="382.90" y="311.85" font-size="5.7" fill="#333" stroke="#333" stroke-width="0.22">CD161<tspan font-size="3.8" dy="-2.9">+</tspan><tspan dy="2.9"></tspan></text>
<text x="387.70" y="318.55" font-size="5.7" fill="#333" stroke="#333" stroke-width="0.22">CM</text>
<line x1="387.00" y1="306.50" x2="389.00" y2="298.00" stroke="#888" stroke-width="0.4" />
<text x="329.50" y="271.65" font-size="5.7" fill="#333" stroke="#333" stroke-width="0.22">CD4<tspan font-size="3.8" dy="-2.9">+</tspan><tspan dy="2.9"> other</tspan></text>
<text x="318.80" y="277.55" font-size="5.7" fill="#52aca2" stroke="#52aca2" stroke-width="0.22">Non-polarized</text>
<text x="331.30" y="284.55" font-size="5.7" fill="#52aca2" stroke="#52aca2" stroke-width="0.22">Treg</text>
<text x="340.00" y="289.65" font-size="5.7" fill="#2a3a7a" stroke="#2a3a7a" stroke-width="0.22">+ Th2 CM</text>
<text x="331.00" y="296.75" font-size="5.7" fill="#2a3a7a" stroke="#2a3a7a" stroke-width="0.22">+ Th2 Treg (2)</text>
<text x="334.60" y="302.85" font-size="5.7" fill="#2a3a7a" stroke="#2a3a7a" stroke-width="0.22">Th2 Treg (1)</text>
<text x="333.80" y="310.85" font-size="5.7" fill="#56aeaa" stroke="#56aeaa" stroke-width="0.22">+ Th17 CM (1)</text>
<text x="333.80" y="317.35" font-size="5.7" fill="#56aeaa" stroke="#56aeaa" stroke-width="0.22">+ Th17 CM (2)</text>
<text x="348.50" y="323.55" font-size="5.7" fill="#56aeaa" stroke="#56aeaa" stroke-width="0.22">Th17 Treg</text>
<line x1="358.00" y1="271.00" x2="368.00" y2="277.00" stroke="#888" stroke-width="0.4" />
<line x1="344.00" y1="280.70" x2="369.00" y2="280.70" stroke="#555" stroke-width="0.9" />
<line x1="365.00" y1="287.60" x2="373.00" y2="287.00" stroke="#333" stroke-width="0.7" />
<line x1="365.00" y1="294.70" x2="377.00" y2="291.00" stroke="#333" stroke-width="0.7" />
<line x1="365.00" y1="300.80" x2="379.00" y2="293.00" stroke="#888" stroke-width="0.4" />
<line x1="370.00" y1="308.80" x2="381.00" y2="295.00" stroke="#aaa" stroke-width="0.4" />
<line x1="370.00" y1="315.30" x2="383.00" y2="296.00" stroke="#aaa" stroke-width="0.4" />
<line x1="374.00" y1="321.50" x2="385.00" y2="297.00" stroke="#aaa" stroke-width="0.4" />
<line x1="203.75" y1="297.20" x2="305.00" y2="297.20" stroke="#111" stroke-width="1.1" />
<rect x="204.3" y="302.0" width="5" height="5" fill="#6a2a7a" stroke="#333" stroke-width="0.6"/>
<text x="212.00" y="306.52" font-size="5.6" fill="#222" stroke="#222" stroke-width="0.22">Other CD8<tspan font-size="3.8" dy="-2.9">+</tspan><tspan dy="2.9"></tspan></text>
<text x="212.00" y="313.19" font-size="5.4" fill="#222" stroke="#222" stroke-width="0.22">(1) CCR7<tspan font-size="3.8" dy="-2.9">+</tspan><tspan dy="2.9">IRF4<tspan font-size="3.8" dy="-2.9">+</tspan><tspan dy="2.9"></tspan></tspan></text>
<text x="212.00" y="319.94" font-size="5.4" fill="#222" stroke="#222" stroke-width="0.22">(2) CD8<tspan font-size="3.8" dy="-2.9">+</tspan><tspan dy="2.9"> only</tspan></text>
<rect x="204.3" y="325.0" width="5" height="5" fill="#4a3c6a" stroke="#333" stroke-width="0.6"/>
<text x="212.00" y="329.52" font-size="5.6" fill="#222" stroke="#222" stroke-width="0.22">Tc1 Temra</text>
<text x="212.00" y="336.44" font-size="5.4" fill="#222" stroke="#222" stroke-width="0.22">(1) Ki-67<tspan font-size="3.8" dy="-2.9">-</tspan><tspan dy="2.9"></tspan></text>
<text x="212.00" y="343.44" font-size="5.4" fill="#222" stroke="#222" stroke-width="0.22">(2) Ki-67<tspan font-size="3.8" dy="-2.9">+</tspan><tspan dy="2.9"></tspan></text>
<rect x="204.3" y="348.0" width="5" height="5" fill="#b8b0d0" stroke="#333" stroke-width="0.6"/>
<text x="212.00" y="352.52" font-size="5.6" fill="#222" stroke="#222" stroke-width="0.22">Tc1 EM</text>
<text x="212.00" y="359.34" font-size="5.4" fill="#222" stroke="#222" stroke-width="0.22">(1) CD57<tspan font-size="3.8" dy="-2.9">-</tspan><tspan dy="2.9"> GrzB<tspan font-size="3.8" dy="-2.9">+</tspan><tspan dy="2.9"> PD-1<tspan font-size="3.8" dy="-2.9">+</tspan><tspan dy="2.9"> Ki-67<tspan font-size="3.8" dy="-2.9">-</tspan><tspan dy="2.9"></tspan></tspan></tspan></tspan></text>
<text x="212.00" y="366.24" font-size="5.4" fill="#222" stroke="#222" stroke-width="0.22">(2) CD57<tspan font-size="3.8" dy="-2.9">-</tspan><tspan dy="2.9"> GrzB<tspan font-size="3.8" dy="-2.9">+</tspan><tspan dy="2.9"> PD-1<tspan font-size="3.8" dy="-2.9">-</tspan><tspan dy="2.9"> Ki-67<tspan font-size="3.8" dy="-2.9">+</tspan><tspan dy="2.9"></tspan></tspan></tspan></tspan></text>
<text x="212.00" y="373.14" font-size="5.4" fill="#222" stroke="#222" stroke-width="0.22">(3) CD57<tspan font-size="3.8" dy="-2.9">-</tspan><tspan dy="2.9"> GrzB<tspan font-size="3.8" dy="-2.9">-</tspan><tspan dy="2.9"> PD-1<tspan font-size="3.8" dy="-2.9">+</tspan><tspan dy="2.9"> Ki-67<tspan font-size="3.8" dy="-2.9">-</tspan><tspan dy="2.9"></tspan></tspan></tspan></tspan></text>
<text x="212.00" y="380.04" font-size="5.4" fill="#222" stroke="#222" stroke-width="0.22">(4) CD57<tspan font-size="3.8" dy="-2.9">+</tspan><tspan dy="2.9"> GrzB<tspan font-size="3.8" dy="-2.9">-</tspan><tspan dy="2.9"> PD-1<tspan font-size="3.8" dy="-2.9">+</tspan><tspan dy="2.9"> Ki-67<tspan font-size="3.8" dy="-2.9">-</tspan><tspan dy="2.9"></tspan></tspan></tspan></tspan></text>
<rect x="262.3" y="302.0" width="5" height="5" fill="#111" stroke="#333" stroke-width="0.6"/>
<text x="271.25" y="306.52" font-size="5.6" fill="#222" stroke="#222" stroke-width="0.22">NKT</text>
<text x="271.25" y="313.19" font-size="5.4" fill="#222" stroke="#222" stroke-width="0.22">(1) CD57<tspan font-size="3.8" dy="-2.9">-</tspan><tspan dy="2.9"></tspan></text>
<text x="271.25" y="319.94" font-size="5.4" fill="#222" stroke="#222" stroke-width="0.22">(2) CD57<tspan font-size="3.8" dy="-2.9">+</tspan><tspan dy="2.9"></tspan></text>
<rect x="262.3" y="325.0" width="5" height="5" fill="#f0f0f0" stroke="#777" stroke-width="0.6"/>
<text x="271.25" y="329.52" font-size="5.6" fill="#222" stroke="#222" stroke-width="0.22">Other non T-cell</text>
<text x="271.25" y="336.44" font-size="5.4" fill="#222" stroke="#222" stroke-width="0.22">(1) CD73<tspan font-size="3.8" dy="-2.9">-</tspan><tspan dy="2.9"></tspan></text>
<text x="271.25" y="343.44" font-size="5.4" fill="#222" stroke="#222" stroke-width="0.22">(2) CD73<tspan font-size="3.8" dy="-2.9">+</tspan><tspan dy="2.9"></tspan></text>
<line x1="343.00" y1="333.30" x2="470.50" y2="333.30" stroke="#111" stroke-width="1.1" />
<rect x="344.6" y="338.3" width="5" height="5" fill="#3a8a4a" stroke="#333" stroke-width="0.6"/>
<text x="352.00" y="342.72" font-size="5.6" fill="#222" stroke="#222" stroke-width="0.22">TFH</text>
<text x="352.00" y="349.64" font-size="5.4" fill="#222" stroke="#222" stroke-width="0.22">(1) CD57<tspan font-size="3.8" dy="-2.9">-</tspan><tspan dy="2.9"></tspan></text>
<text x="352.00" y="356.44" font-size="5.4" fill="#222" stroke="#222" stroke-width="0.22">(2) CD57<tspan font-size="3.8" dy="-2.9">+</tspan><tspan dy="2.9">CD30<tspan font-size="3.8" dy="-2.9">-</tspan><tspan dy="2.9"></tspan></tspan></text>
<text x="352.00" y="363.44" font-size="5.4" fill="#222" stroke="#222" stroke-width="0.22">(3) CD57<tspan font-size="3.8" dy="-2.9">+</tspan><tspan dy="2.9">CD30<tspan font-size="3.8" dy="-2.9">+</tspan><tspan dy="2.9"></tspan></tspan></text>
<rect x="344.6" y="368.1" width="5" height="5" fill="#7a2a2a" stroke="#333" stroke-width="0.6"/>
<text x="352.00" y="372.62" font-size="5.6" fill="#222" stroke="#222" stroke-width="0.22">Th1 Treg</text>
<text x="352.00" y="379.24" font-size="5.4" fill="#222" stroke="#222" stroke-width="0.22">(1) Ki-67<tspan font-size="3.8" dy="-2.9">+</tspan><tspan dy="2.9"></tspan></text>
<text x="352.00" y="386.34" font-size="5.4" fill="#222" stroke="#222" stroke-width="0.22">(2) Ki-67</text>
<rect x="397.1" y="338.3" width="5" height="5" fill="#e0a0a0" stroke="#333" stroke-width="0.6"/>
<text x="405.90" y="342.72" font-size="5.6" fill="#222" stroke="#222" stroke-width="0.22">Th1 EM</text>
<text x="405.90" y="349.64" font-size="5.4" fill="#222" stroke="#222" stroke-width="0.22">(1)T-bet<tspan font-size="3.8" dy="-2.9">hi</tspan><tspan dy="2.9"> Eomes<tspan font-size="3.8" dy="-2.9">lo</tspan><tspan dy="2.9"> PD-1<tspan font-size="3.8" dy="-2.9">hi</tspan><tspan dy="2.9"></tspan></tspan></tspan></text>
<text x="405.90" y="356.44" font-size="5.4" fill="#222" stroke="#222" stroke-width="0.22">(2)T-bet<tspan font-size="3.8" dy="-2.9">hi</tspan><tspan dy="2.9"> Eomes<tspan font-size="3.8" dy="-2.9">lo</tspan><tspan dy="2.9"> PD<tspan font-size="3.8" dy="-2.9">int/-</tspan><tspan dy="2.9"></tspan></tspan></tspan></text>
<rect x="397.1" y="368.1" width="5" height="5" fill="#b4dce4" stroke="#333" stroke-width="0.6"/>
<text x="405.90" y="372.62" font-size="5.6" fill="#222" stroke="#222" stroke-width="0.22">Th17 CM</text>
<text x="405.90" y="379.24" font-size="5.4" fill="#222" stroke="#222" stroke-width="0.22">(1) CXCR5<tspan font-size="3.8" dy="-2.9">-</tspan><tspan dy="2.9"></tspan></text>
<text x="405.90" y="386.34" font-size="5.4" fill="#222" stroke="#222" stroke-width="0.22">(2) CXCR5<tspan font-size="3.8" dy="-2.9">+</tspan><tspan dy="2.9"></tspan></text>
<rect x="437.5" y="368.1" width="5" height="5" fill="#4a6aa0" stroke="#333" stroke-width="0.6"/>
<text x="445.80" y="372.62" font-size="5.6" fill="#222" stroke="#222" stroke-width="0.22">Th2 Treg</text>
<text x="445.80" y="379.24" font-size="5.4" fill="#222" stroke="#222" stroke-width="0.22">(1) Ki-67<tspan font-size="3.8" dy="-2.9">+</tspan><tspan dy="2.9"></tspan></text>
<text x="445.80" y="386.34" font-size="5.4" fill="#222" stroke="#222" stroke-width="0.22">(2) Ki-67</text>
<defs><linearGradient id="fulg" x1="0" y1="0" x2="1" y2="0"><stop offset="0" stop-color="#d8d8d8"/><stop offset="1" stop-color="#b0b0b0"/></linearGradient><linearGradient id="pdg" x1="0" y1="0" x2="1" y2="0"><stop offset="0" stop-color="#1e1e6e"/><stop offset="0.12" stop-color="#6a6aa8"/><stop offset="0.25" stop-color="#ffffff"/><stop offset="0.6" stop-color="#e08888"/><stop offset="1" stop-color="#a81414"/></linearGradient></defs>
<text x="7.20" y="401.42" font-size="12" fill="#111" font-weight="bold" stroke="#111" stroke-width="0.45">C</text>
<rect x="54.8" y="408.1" width="83.7" height="15.899999999999977" fill="#fff" stroke="#555" stroke-width="0.9"/>
<text x="96.65" y="417.99" font-size="5.4" fill="#111" text-anchor="middle" font-weight="bold" textLength="76.9" lengthAdjust="spacingAndGlyphs" stroke="#111" stroke-width="0.28">Reactive lymph nodes/tonsils</text>
<rect x="290.4" y="408.5" width="83.80000000000001" height="15.300000000000011" fill="#fff" stroke="#555" stroke-width="0.9"/>
<text x="332.30" y="418.09" font-size="5.4" fill="#111" text-anchor="middle" font-weight="bold" textLength="33.8" lengthAdjust="spacingAndGlyphs" stroke="#111" stroke-width="0.28">Tumor - cHL</text>
<line x1="18.00" y1="534.50" x2="162.50" y2="534.50" stroke="#b8b8b8" stroke-width="2" />
<polygon points="89.30,500.60 82.70,534.50 95.90,534.50" fill="url(#fulg)" stroke="#7a7a7a" stroke-width="0.6"/>
<line x1="12.10" y1="482.20" x2="161.00" y2="517.90" stroke="#6e6e6e" stroke-width="1.8" />
<polygon points="13.61,483.39 31.01,487.56 30.17,491.06 12.77,486.89" fill="#3c3696" stroke="#3a3a44" stroke-width="0.75"/>
<polygon points="109.27,506.94 121.17,509.79 120.33,513.29 108.43,510.44" fill="#cbcbee" stroke="#3a3a44" stroke-width="0.75"/>
<polygon points="130.45,512.12 159.65,519.12 158.76,522.81 129.56,515.81" fill="#cbcbee" stroke="#3a3a44" stroke-width="0.75"/>
<ellipse cx="25.55" cy="474.2" rx="10.95" ry="10" fill="#ac3a30" stroke="#5a1a14" stroke-width="0.6"/>
<ellipse cx="117.5" cy="500" rx="7.9" ry="7.3" fill="#3cb2cc" stroke="#1e5a70" stroke-width="0.6"/>
<ellipse cx="154.8" cy="489.2" rx="29.2" ry="27.1" fill="#4a7cc4" stroke="#1a2a5a" stroke-width="0.8"/>
<text x="27.85" y="460.76" font-size="6" fill="#222" text-anchor="middle" textLength="21.9" lengthAdjust="spacingAndGlyphs" stroke="#222" stroke-width="0.22">Th1 Treg</text>
<text x="112.50" y="481.96" font-size="6" fill="#222" text-anchor="middle" textLength="12" lengthAdjust="spacingAndGlyphs" stroke="#222" stroke-width="0.22">Th17</text>
<text x="112.60" y="488.06" font-size="6" fill="#222" text-anchor="middle" textLength="10.8" lengthAdjust="spacingAndGlyphs" stroke="#222" stroke-width="0.22">Treg</text>
<text x="155.05" y="491.66" font-size="6" fill="#e8f0ff" text-anchor="middle" textLength="22.1" lengthAdjust="spacingAndGlyphs" stroke="#e8f0ff" stroke-width="0.22">Th2 Treg</text>
<line x1="268.50" y1="534.60" x2="401.20" y2="534.60" stroke="#b8b8b8" stroke-width="2" />
<polygon points="347.30,500.80 341.50,534.60 353.10,534.60" fill="url(#fulg)" stroke="#7a7a7a" stroke-width="0.6"/>
<line x1="276.20" y1="534.60" x2="418.50" y2="468.50" stroke="#6e6e6e" stroke-width="1.8" />
<ellipse cx="281.4" cy="485.6" rx="43.2" ry="41.4" fill="#a0342e" stroke="#4a1010" stroke-width="0.7"/>
<polygon points="277.12,533.18 322.12,512.28 323.89,516.09 278.89,536.99" fill="#3c3696" stroke="#3a3a44" stroke-width="0.75"/>
<polygon points="390.47,481.96 404.57,475.41 406.09,478.68 391.99,485.23" fill="#cbcbee" stroke="#3a3a44" stroke-width="0.75"/>
<polygon points="410.25,472.99 417.05,469.83 418.40,472.74 411.60,475.89" fill="#cbcbee" stroke="#3a3a44" stroke-width="0.75"/>
<ellipse cx="392.85" cy="469.25" rx="9.95" ry="9.75" fill="#4a7cc4" stroke="#1a2a5a" stroke-width="0.6"/>
<ellipse cx="409.8" cy="466.9" rx="4.7" ry="4.3" fill="#3cb2cc" stroke="#1e5a70" stroke-width="0.5"/>
<text x="281.00" y="487.96" font-size="6" fill="#f8e8e8" text-anchor="middle" textLength="23" lengthAdjust="spacingAndGlyphs" stroke="#f8e8e8" stroke-width="0.22">Th1 Treg</text>
<text x="386.65" y="456.66" font-size="6" fill="#222" text-anchor="middle" textLength="21.5" lengthAdjust="spacingAndGlyphs" stroke="#222" stroke-width="0.22">Th2 Treg</text>
<text x="412.25" y="453.16" font-size="6" fill="#222" text-anchor="middle" textLength="11.7" lengthAdjust="spacingAndGlyphs" stroke="#222" stroke-width="0.22">Th17</text>
<text x="412.50" y="460.36" font-size="6" fill="#222" text-anchor="middle" textLength="10.8" lengthAdjust="spacingAndGlyphs" stroke="#222" stroke-width="0.22">Treg</text>
<line x1="19.00" y1="656.60" x2="188.00" y2="656.60" stroke="#b8b8b8" stroke-width="2" />
<polygon points="92.20,621.60 85.70,656.60 98.70,656.60" fill="url(#fulg)" stroke="#7a7a7a" stroke-width="0.6"/>
<line x1="11.00" y1="586.80" x2="182.70" y2="655.10" stroke="#6e6e6e" stroke-width="1.8" />
<polygon points="16.17,589.82 30.67,595.59 29.26,599.12 14.76,593.35" fill="#e68a8a" stroke="#3a3a44" stroke-width="0.75"/>
<polygon points="39.17,598.97 49.17,602.95 47.76,606.48 37.76,602.50" fill="#d94c4c" stroke="#3a3a44" stroke-width="0.75"/>
<ellipse cx="28.1" cy="580.6" rx="12.1" ry="11.1" fill="#d6a0a0" stroke="#7a4040" stroke-width="0.6"/>
<ellipse cx="47.1" cy="593" rx="6.9" ry="6.75" fill="#6e1a1a" stroke="#3a0a0a" stroke-width="0.6"/>
<ellipse cx="118.05" cy="584.05" rx="40.85" ry="39.85" fill="#8eaedc" stroke="#3a5a8a" stroke-width="0.7"/>
<ellipse cx="183.75" cy="606.6" rx="45.75" ry="42.8" fill="#b4d9da" stroke="#2a4a5a" stroke-width="0.7"/>
<polygon points="87.93,617.62 136.93,637.11 135.30,641.20 86.30,621.70" fill="#cbcbee" stroke="#3a3a44" stroke-width="0.75"/>
<polygon points="136.93,637.11 182.73,655.33 181.10,659.41 135.30,641.20" fill="#3c3696" stroke="#3a3a44" stroke-width="0.75"/>
<text x="28.50" y="567.92" font-size="5.9" fill="#222" text-anchor="middle" textLength="19.4" lengthAdjust="spacingAndGlyphs" stroke="#222" stroke-width="0.22">Th1 EM</text>
<text x="52.00" y="577.12" font-size="5.9" fill="#222" text-anchor="middle" stroke="#222" stroke-width="0.22">Th1</text>
<text x="52.30" y="584.32" font-size="5.9" fill="#222" text-anchor="middle" textLength="15" lengthAdjust="spacingAndGlyphs" stroke="#222" stroke-width="0.22">Temra</text>
<text x="116.10" y="587.23" font-size="6.2" fill="#1a2a4a" text-anchor="middle" textLength="19.8" lengthAdjust="spacingAndGlyphs" stroke="#1a2a4a" stroke-width="0.22">Th2 CM</text>
<text x="183.60" y="608.03" font-size="6.2" fill="#1a2a4a" text-anchor="middle" textLength="23.1" lengthAdjust="spacingAndGlyphs" stroke="#1a2a4a" stroke-width="0.22">Th17 CM</text>
<line x1="268.70" y1="656.50" x2="427.90" y2="656.50" stroke="#b8b8b8" stroke-width="2" />
<polygon points="351.70,622.90 345.80,656.50 357.60,656.50" fill="url(#fulg)" stroke="#7a7a7a" stroke-width="0.6"/>
<line x1="273.80" y1="634.50" x2="427.90" y2="613.50" stroke="#6e6e6e" stroke-width="1.8" />
<polygon points="275.03,634.53 285.43,633.12 286.02,637.48 275.62,638.89" fill="#3c3696" stroke="#3a3a44" stroke-width="0.75"/>
<polygon points="290.87,632.68 323.57,628.22 324.08,631.99 291.38,636.44" fill="#e68a8a" stroke="#3a3a44" stroke-width="0.75"/>
<polygon points="332.17,627.05 350.47,624.56 350.98,628.32 332.68,630.82" fill="#d94c4c" stroke="#3a3a44" stroke-width="0.75"/>
<polygon points="377.07,620.93 400.07,617.80 400.58,621.56 377.58,624.70" fill="#cbcbee" stroke="#3a3a44" stroke-width="0.75"/>
<polygon points="408.57,616.64 427.07,614.12 427.58,617.88 409.08,620.40" fill="#3c3696" stroke="#3a3a44" stroke-width="0.75"/>
<ellipse cx="278.45" cy="626.45" rx="6.55" ry="6.25" fill="#e2bcbc" stroke="#7a5050" stroke-width="0.6"/>
<ellipse cx="301.8" cy="604.8" rx="24.5" ry="24" fill="#d09a9a" stroke="#7a4a4a" stroke-width="0.7"/>
<ellipse cx="340.45" cy="610.85" rx="14.15" ry="13.15" fill="#6a1818" stroke="#3a0a0a" stroke-width="0.6"/>
<ellipse cx="384.6" cy="600.2" rx="17.7" ry="16.7" fill="#8eaedc" stroke="#3a5a8a" stroke-width="0.6"/>
<ellipse cx="417.3" cy="598.6" rx="14.2" ry="13.2" fill="#b8dcdc" stroke="#2a4a5a" stroke-width="0.6"/>
<text x="267.70" y="613.36" font-size="6" fill="#222" text-anchor="middle" textLength="8.5" lengthAdjust="spacingAndGlyphs" stroke="#222" stroke-width="0.22">Th1</text>
<text x="267.70" y="620.46" font-size="6" fill="#222" text-anchor="middle" stroke="#222" stroke-width="0.22">CM</text>
<text x="302.00" y="606.96" font-size="6" fill="#2a0a0a" text-anchor="middle" textLength="19.8" lengthAdjust="spacingAndGlyphs" stroke="#2a0a0a" stroke-width="0.22">Th1 EM</text>
<text x="340.30" y="587.16" font-size="6" fill="#222" text-anchor="middle" textLength="8.6" lengthAdjust="spacingAndGlyphs" stroke="#222" stroke-width="0.22">Th1</text>
<text x="340.35" y="594.86" font-size="6" fill="#222" text-anchor="middle" textLength="15.3" lengthAdjust="spacingAndGlyphs" stroke="#222" stroke-width="0.22">Temra</text>
<text x="382.00" y="582.16" font-size="6" fill="#222" text-anchor="middle" textLength="20" lengthAdjust="spacingAndGlyphs" stroke="#222" stroke-width="0.22">Th2 CM</text>
<text x="417.35" y="583.66" font-size="6" fill="#222" text-anchor="middle" textLength="22.3" lengthAdjust="spacingAndGlyphs" stroke="#222" stroke-width="0.22">Th17 CM</text>
<rect x="188.9" y="671.6" width="87.7" height="4.6" fill="url(#pdg)" stroke="#333" stroke-width="0.5"/>
<text x="232.80" y="666.64" font-size="5.4" fill="#222" text-anchor="middle" stroke="#222" stroke-width="0.22">PD-1</text>
<line x1="189.60" y1="676.20" x2="189.60" y2="678.00" stroke="#333" stroke-width="0.5" />
<text x="189.60" y="686.94" font-size="5.4" fill="#222" text-anchor="middle" stroke="#222" stroke-width="0.22">-1</text>
<line x1="211.10" y1="676.20" x2="211.10" y2="678.00" stroke="#333" stroke-width="0.5" />
<text x="211.10" y="686.94" font-size="5.4" fill="#222" text-anchor="middle" stroke="#222" stroke-width="0.22">0</text>
<line x1="232.80" y1="676.20" x2="232.80" y2="678.00" stroke="#333" stroke-width="0.5" />
<text x="232.80" y="686.94" font-size="5.4" fill="#222" text-anchor="middle" stroke="#222" stroke-width="0.22">1</text>
<line x1="254.20" y1="676.20" x2="254.20" y2="678.00" stroke="#333" stroke-width="0.5" />
<text x="254.20" y="686.94" font-size="5.4" fill="#222" text-anchor="middle" stroke="#222" stroke-width="0.22">2</text>
<line x1="275.70" y1="676.20" x2="275.70" y2="678.00" stroke="#333" stroke-width="0.5" />
<text x="275.70" y="686.94" font-size="5.4" fill="#222" text-anchor="middle" stroke="#222" stroke-width="0.22">3</text>
<rect x="0" y="0" width="520" height="1.2" fill="#000" stroke="none" stroke-width="1"/>
<rect x="0" y="0" width="1.5" height="695" fill="#000" stroke="none" stroke-width="1"/>
<rect x="518.3" y="0" width="1.7" height="695" fill="#000" stroke="none" stroke-width="1"/>
<rect x="0" y="693.2" width="520" height="1.8" fill="#000" stroke="none" stroke-width="1"/>
</svg></body></html>
